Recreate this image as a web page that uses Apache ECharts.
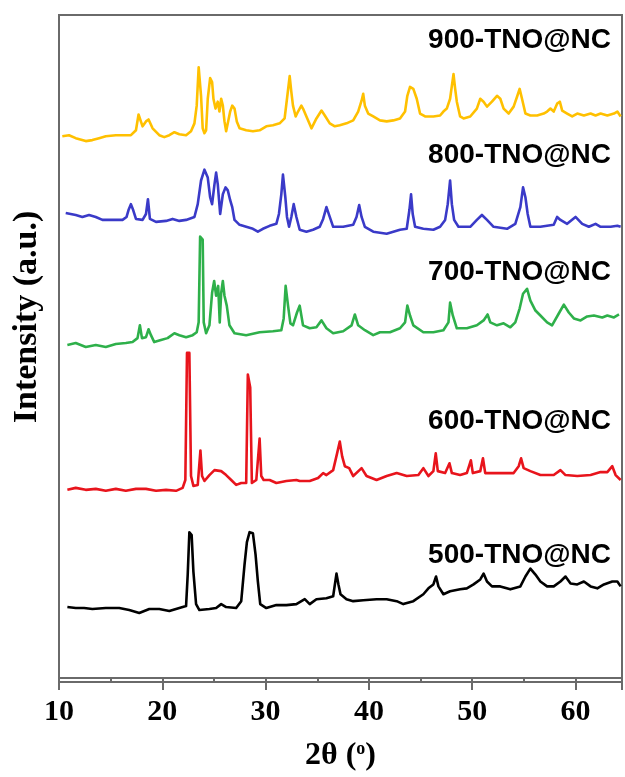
<!DOCTYPE html>
<html><head><meta charset="utf-8">
<script src="https://cdn.jsdelivr.net/npm/echarts@6/dist/echarts.min.js"></script>
<style>html,body{margin:0;padding:0;background:#fff}#c{width:625px;height:777px}</style>
</head><body><div id="c"></div>
<script>
// ---- data (2θ in degrees, intensity in a.u.; traces already stacked) ----
const xTickLabels = [10, 20, 30, 40, 50, 60];
const seriesNames = ['900-TNO@NC', '800-TNO@NC', '700-TNO@NC', '600-TNO@NC', '500-TNO@NC'];

const s900 = [[10.32,549],[10.97,550],[11.62,547],[12.59,544],[13.23,545],[13.88,547],[14.53,549],[15.50,550],[16.47,550],[16.96,550],[17.45,555],[17.70,571],[18.09,559],[18.42,564],[18.67,566],[19.06,557],[19.71,550],[20.19,548],[20.68,550],[21.17,553],[21.65,551],[22.30,550],[22.78,554],[23.11,562],[23.33,580],[23.52,619],[23.75,590],[23.91,557],[24.08,552],[24.24,555],[24.40,587],[24.63,608],[24.82,604],[24.95,587],[25.15,577],[25.37,584],[25.53,574],[25.70,587],[25.86,580],[26.02,564],[26.18,554],[26.34,555],[26.57,574],[26.77,580],[26.99,577],[27.21,564],[27.48,557],[28.12,555],[28.77,554],[29.42,555],[30.07,559],[30.71,560],[31.36,562],[31.84,567],[32.07,587],[32.33,610],[32.49,594],[32.65,580],[32.91,569],[33.14,574],[33.46,580],[33.62,577],[33.95,569],[34.44,557],[34.92,567],[35.41,575],[35.73,570],[36.21,562],[36.70,559],[37.18,560],[37.83,562],[38.48,565],[38.96,574],[39.29,585],[39.45,592],[39.61,580],[39.93,572],[40.42,569],[41.07,565],[41.72,564],[42.36,565],[43.01,567],[43.50,574],[43.72,590],[43.98,599],[44.30,597],[44.63,587],[44.95,572],[45.44,569],[46.24,569],[46.89,570],[47.21,574],[47.54,577],[47.86,587],[48.03,600],[48.19,612],[48.35,597],[48.51,584],[48.83,569],[49.16,567],[49.81,569],[50.45,577],[50.78,587],[51.10,584],[51.43,579],[51.91,584],[52.40,590],[52.72,587],[53.04,577],[53.53,572],[54.01,579],[54.34,589],[54.59,597],[54.82,587],[55.15,572],[55.63,570],[56.28,570],[56.92,572],[57.25,574],[57.57,577],[57.89,574],[58.22,582],[58.48,584],[58.71,575],[59.19,572],[59.68,569],[60.17,572],[60.81,570],[61.46,572],[61.94,570],[62.43,572],[63.08,570],[63.72,572],[64.05,574],[64.37,569]];

const s800 = [[10.65,471],[11.13,470],[11.62,469],[12.26,467],[12.91,469],[13.56,467],[14.20,464],[15.17,464],[16.15,464],[16.54,467],[16.73,474],[16.96,480],[17.18,474],[17.45,465],[18.09,464],[18.42,470],[18.61,485],[18.80,465],[19.39,462],[20.36,463],[21.00,465],[21.65,463],[22.30,464],[23.11,467],[23.43,480],[23.75,504],[24.08,515],[24.40,507],[24.63,487],[24.82,480],[25.05,500],[25.21,512],[25.37,500],[25.60,470],[25.86,490],[26.12,497],[26.34,494],[26.57,484],[26.77,477],[26.99,464],[27.48,459],[28.12,457],[28.77,455],[29.25,452],[29.74,455],[30.39,458],[31.04,460],[31.29,470],[31.52,490],[31.68,510],[31.91,487],[32.07,467],[32.27,457],[32.49,467],[32.72,480],[32.98,467],[33.30,454],[33.95,452],[34.59,454],[35.24,457],[35.57,465],[35.89,477],[36.21,467],[36.54,457],[37.51,457],[38.48,459],[38.80,467],[39.06,479],[39.29,467],[39.61,457],[40.42,452],[41.72,450],[43.01,454],[43.66,455],[43.92,474],[44.08,490],[44.24,470],[44.47,457],[45.27,455],[46.24,454],[46.89,457],[47.38,464],[47.63,480],[47.86,504],[48.03,480],[48.25,464],[48.67,457],[49.81,457],[50.45,464],[50.94,469],[51.43,464],[52.07,457],[53.37,455],[54.17,460],[54.66,477],[54.92,497],[55.15,487],[55.37,470],[55.63,457],[56.60,457],[57.89,459],[58.22,467],[58.54,464],[59.19,460],[60.00,467],[60.65,460],[61.29,457],[61.94,460],[62.43,457],[63.40,457],[64.05,458],[64.37,457]];

const s700 = [[10.81,337],[11.62,339],[12.59,335],[13.56,337],[14.53,335],[15.50,338],[16.47,339],[17.12,340],[17.60,344],[17.83,357],[18.03,344],[18.42,345],[18.67,353],[18.90,347],[19.22,340],[19.87,342],[20.51,344],[21.17,349],[21.65,347],[22.30,345],[22.94,347],[23.33,350],[23.52,360],[23.66,447],[23.91,444],[24.01,360],[24.24,349],[24.56,357],[24.82,390],[25.02,402],[25.21,387],[25.41,397],[25.56,360],[25.70,390],[25.86,402],[26.02,387],[26.24,377],[26.50,357],[26.99,349],[28.12,347],[29.42,350],[30.71,351],[31.52,352],[31.75,364],[31.94,397],[32.17,377],[32.40,359],[32.65,357],[33.04,370],[33.30,377],[33.62,357],[34.27,354],[34.92,355],[35.41,362],[35.89,354],[36.54,349],[37.51,351],[38.32,357],[38.64,368],[38.96,357],[39.61,352],[40.42,347],[41.07,350],[42.04,350],[43.01,354],[43.50,360],[43.72,377],[43.98,367],[44.30,357],[45.27,350],[46.24,350],[47.21,352],[47.70,360],[47.86,380],[48.12,367],[48.51,354],[49.48,354],[50.45,357],[51.10,362],[51.49,368],[51.75,360],[52.40,357],[53.04,359],[53.69,355],[54.17,360],[54.59,374],[54.92,389],[55.31,394],[55.63,382],[56.12,372],[56.60,367],[57.25,360],[57.73,357],[58.38,369],[58.87,378],[59.35,370],[59.84,364],[60.49,362],[61.13,366],[61.78,367],[62.59,365],[63.08,367],[63.72,365],[64.21,368]];

const s600 = [[10.81,190],[11.62,192],[12.59,190],[13.56,191],[14.53,189],[15.50,191],[16.47,189],[17.45,191],[18.42,191],[19.39,189],[20.36,190],[21.33,189],[21.97,192],[22.23,200],[22.39,329],[22.62,329],[22.78,204],[23.01,194],[23.43,195],[23.69,230],[23.85,204],[24.08,199],[24.56,205],[25.05,210],[25.70,209],[26.18,205],[26.67,200],[27.15,195],[27.64,197],[28.12,197],[28.28,307],[28.51,294],[28.67,197],[29.10,200],[29.42,242],[29.58,204],[29.81,200],[30.39,200],[31.04,197],[32.01,199],[32.98,200],[33.30,199],[34.27,199],[35.08,202],[35.57,207],[35.89,205],[36.54,210],[36.92,227],[37.18,239],[37.41,224],[37.67,214],[38.09,212],[38.48,204],[39.29,212],[39.77,204],[40.74,200],[41.72,204],[42.69,207],[43.66,204],[44.79,205],[45.27,212],[45.76,204],[46.24,209],[46.47,227],[46.67,209],[47.38,207],[47.80,217],[48.03,207],[48.83,205],[49.48,207],[49.87,220],[50.06,207],[50.78,209],[51.04,222],[51.26,207],[52.72,207],[54.01,207],[54.50,214],[54.73,222],[54.98,212],[55.63,209],[56.60,205],[57.89,205],[58.54,210],[59.03,205],[60.17,204],[61.46,205],[62.43,208],[63.08,208],[63.56,214],[63.88,205],[64.37,200]];

const s500 = [[10.81,71],[11.62,70],[12.43,70],[13.23,69],[14.53,70],[15.83,70],[16.80,68],[17.77,65],[18.74,69],[19.71,69],[20.68,67],[21.65,70],[22.30,72],[22.46,104],[22.62,147],[22.84,144],[23.01,107],[23.27,74],[23.59,68],[24.56,69],[25.21,70],[25.70,74],[26.18,71],[27.15,70],[27.64,77],[27.96,114],[28.19,137],[28.45,147],[28.77,146],[29.03,124],[29.25,97],[29.48,74],[30.07,70],[31.04,73],[32.01,73],[32.98,74],[33.79,79],[34.27,74],[34.92,79],[35.89,80],[36.54,82],[36.86,105],[37.05,94],[37.25,84],[37.83,79],[38.48,77],[39.45,78],[40.74,79],[41.72,79],[42.69,77],[43.33,74],[44.30,77],[45.27,84],[45.76,90],[46.24,94],[46.50,102],[46.73,92],[47.21,84],[47.86,87],[48.83,89],[49.48,90],[50.13,94],[50.78,99],[51.10,105],[51.43,97],[51.91,92],[52.72,92],[53.69,89],[54.66,92],[55.15,102],[55.63,110],[56.12,104],[56.60,97],[57.25,92],[57.89,92],[58.54,97],[59.03,102],[59.52,95],[60.17,94],[60.81,97],[61.46,92],[62.11,90],[62.75,94],[63.56,97],[64.05,97],[64.37,92]];

const traceData = [s900, s800, s700, s600, s500];
const traceColors = ['#FFC000', '#3A3AC8', '#2EB04A', '#E8141C', '#000000'];

// ---- chart ----
const chart = echarts.init(document.getElementById('c'), null, { renderer: 'canvas' });
const frameColor = '#6a6a6a';
const serif = '"Liberation Serif", "Times New Roman", serif';
const sans = '"Liberation Sans", Arial, sans-serif';

const labelPos = [[611, 40], [611, 155], [611, 272], [611, 421], [611, 555]];

chart.setOption({
  animation: false,
  backgroundColor: '#ffffff',
  grid: { left: 59, right: 2.5, top: 15, bottom: 89, show: true, borderColor: frameColor, borderWidth: 2, containLabel: false },
  xAxis: [{
    type: 'value', min: 10, max: 64.5, interval: 10, position: 'bottom', offset: 4,
    axisLine: { show: true, onZero: false, lineStyle: { color: frameColor, width: 2 } },
    axisTick: { show: true, inside: false, length: 8, lineStyle: { color: frameColor, width: 2 } },
    minorTick: { show: false },
    splitLine: { show: false },
    axisLabel: { margin: 15, color: '#000', fontFamily: serif, fontWeight: 'bold', fontSize: 30,
      formatter: v => (xTickLabels.indexOf(Math.round(v * 100) / 100) >= 0 ? String(v) : '') },
    name: '2θ ({s|o})', nameLocation: 'middle', nameGap: 58,
    nameTextStyle: { color: '#000', fontFamily: serif, fontWeight: 'bold', fontSize: 32,
      rich: { s: { fontFamily: serif, fontWeight: 'bold', fontSize: 18, verticalAlign: 'top', padding: [0, 0, 14, 0] } } }
  }, {
    type: 'value', min: 10, max: 64.5, interval: 5, position: 'bottom', offset: 4,
    axisLine: { show: false },
    axisTick: { show: true, inside: false, length: 5, lineStyle: { color: frameColor, width: 2 } },
    axisLabel: { show: false }, splitLine: { show: false }
  }],
  yAxis: { type: 'value', min: -1, max: 672, show: false },
  series: traceData.map((d, i) => ({
    name: seriesNames[i], type: 'line', data: d, xAxisIndex: 0, showSymbol: false, symbol: 'none',
    lineStyle: { color: traceColors[i], width: 2.6, join: 'round' }, silent: true
  })),
  graphic: [
    { type: 'text', x: 27, y: 317, rotation: Math.PI / 2,
      style: { text: 'Intensity (a.u.)', font: 'bold 34px ' + serif, fill: '#000', align: 'center', verticalAlign: 'middle' } }
  ].concat(seriesNames.map((n, i) => ({
    type: 'text', x: labelPos[i][0], y: labelPos[i][1],
    style: { text: n, font: 'bold 28px ' + sans, fill: '#000', align: 'right', verticalAlign: 'middle' }
  })))
});
</script></body></html>
